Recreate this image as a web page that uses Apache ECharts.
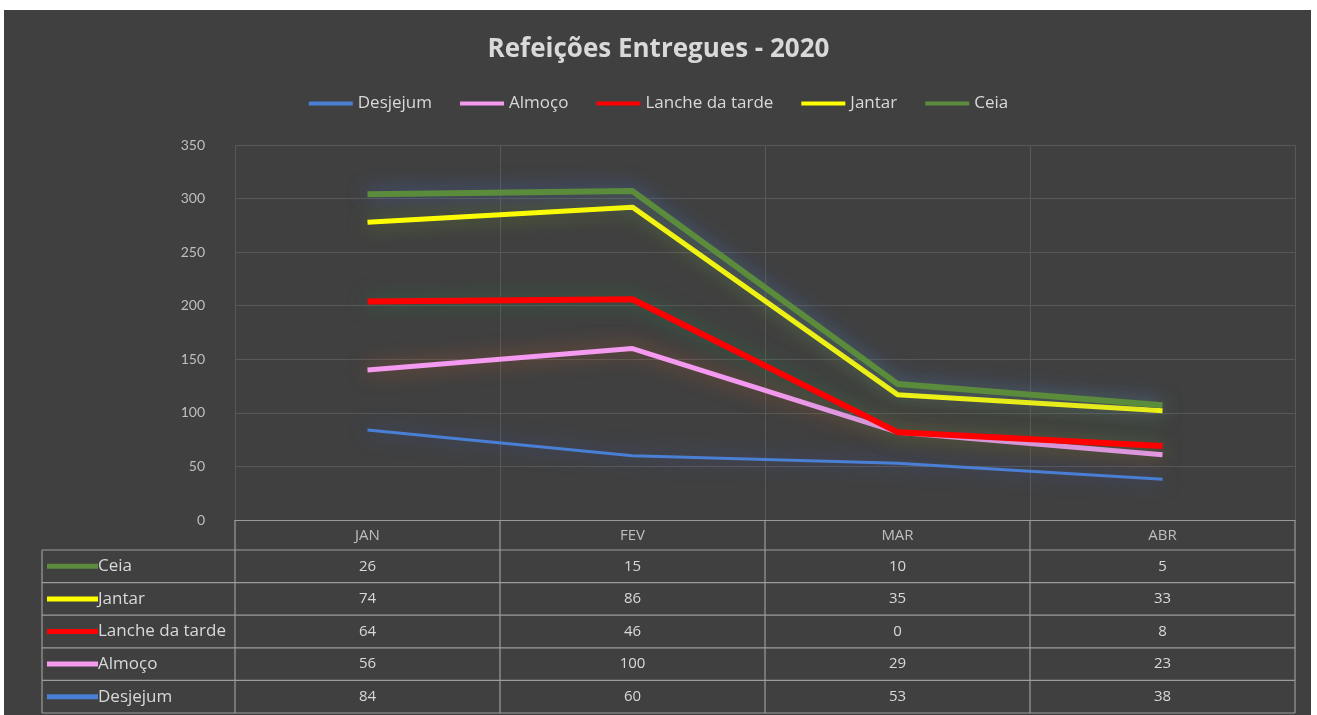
<!DOCTYPE html>
<html><head><meta charset="utf-8">
<script src="https://cdn.jsdelivr.net/npm/echarts@6/dist/echarts.min.js"></script>
<style>html,body{margin:0;padding:0;background:#fff;}#c{width:1317px;height:715px;}</style>
</head><body><div id="c"></div>
<script>
const categories = ['JAN', 'FEV', 'MAR', 'ABR'];
const seriesNames = ['Desjejum', 'Almoço', 'Lanche da tarde', 'Jantar', 'Ceia'];
const desjejum = [84, 60, 53, 38];
const almoco = [56, 100, 29, 23];
const lanche = [64, 46, 0, 8];
const jantar = [74, 86, 35, 33];
const ceia = [26, 15, 10, 5];
const yTicks = [0, 50, 100, 150, 200, 250, 300, 350];

const values = [desjejum, almoco, lanche, jantar, ceia];
const colors = ['#4a7fd6', '#f49af0', '#ff0000', '#ffff00', '#5b8c3c'];
const glows = ['rgba(60,100,220,0.65)', 'rgba(220,100,40,0.6)', 'rgba(40,130,70,0.65)', 'rgba(120,170,40,0.65)', 'rgba(70,110,210,0.7)'];
const widths = [3, 5, 6, 5, 6];
const FONT = '"Open Sans", Lato, sans-serif';
const TXT = '#d9d9d9';
const GRID = {left: 235, right: 22, top: 145, bottom: 195};

const chart = echarts.init(document.getElementById('c'));
const series = seriesNames.map((n, i) => ({
  name: n, type: 'line', stack: 'total', data: values[i], symbol: 'none',
  lineStyle: {color: colors[i], width: widths[i], shadowBlur: 20, shadowColor: glows[i]},
  itemStyle: {color: colors[i]}, z: 2 + i
}));

chart.setOption({
  backgroundColor: '#ffffff',
  animation: false,
  title: {text: 'Refeições Entregues - 2020', left: 'center', top: 32,
    textStyle: {color: TXT, fontFamily: FONT, fontSize: 26, fontWeight: 'bold'}},
  legend: {top: 90, left: 'center', icon: 'rect', itemWidth: 44, itemHeight: 4, itemGap: 28,
    data: seriesNames, textStyle: {color: TXT, fontFamily: FONT, fontSize: 17}},
  grid: GRID,
  xAxis: {type: 'category', data: categories, boundaryGap: true,
    axisLine: {show: true, lineStyle: {color: '#9a9a9a'}}, axisTick: {show: false},
    axisLabel: {color: '#bfbfbf', fontFamily: FONT, fontSize: 15, margin: 8},
    splitLine: {show: true, lineStyle: {color: '#585858'}}},
  yAxis: {type: 'value', min: yTicks[0], max: yTicks[yTicks.length - 1], interval: 50,
    axisLine: {show: false}, axisTick: {show: false},
    axisLabel: {color: '#bfbfbf', fontFamily: 'Lato, sans-serif', fontSize: 14, margin: 30},
    splitLine: {show: true, lineStyle: {color: '#585858'}}},
  series: series
});

// dark panel + data table
const W = 1317, H = 715;
const gx0 = GRID.left, gx1 = W - GRID.right, gy0 = H - GRID.bottom;
const tableLeft = 42, rowH = 32.6, headBottom = gy0 + 30;
const catX = categories.map((c, i) => chart.convertToPixel({xAxisIndex: 0}, c));
const catW = (gx1 - gx0) / categories.length;
const lineC = '#9c9c9c';
const els = [{type: 'rect', shape: {x: 4, y: 10, width: 1307, height: 710}, style: {fill: '#404040'}, z: -10, silent: true}];
const hl = (x1, y, x2) => els.push({type: 'line', shape: {x1, y1: y, x2, y2: y}, style: {stroke: lineC, lineWidth: 1.2}, z: 1});
const vl = (x, y1, y2) => els.push({type: 'line', shape: {x1: x, y1, x2: x, y2}, style: {stroke: lineC, lineWidth: 1.2}, z: 1});
const order = [4, 3, 2, 1, 0];
for (let r = 0; r <= order.length; r++) hl(tableLeft, headBottom + r * rowH, gx1);
const tableBottom = headBottom + order.length * rowH;
vl(tableLeft, headBottom, tableBottom);
for (let k = 0; k <= categories.length; k++) vl(gx0 + k * catW, gy0, tableBottom);
order.forEach((si, r) => {
  const cy = headBottom + r * rowH + rowH / 2;
  els.push({type: 'rect', shape: {x: tableLeft + 5, y: cy - 2.5, width: 51, height: 5}, style: {fill: colors[si]}, z: 2});
  els.push({type: 'text', x: tableLeft + 56, y: cy, style: {text: seriesNames[si], fill: TXT, font: '17px ' + FONT, textVerticalAlign: 'middle', textAlign: 'left'}, z: 2});
  values[si].forEach((v, ci) => {
    els.push({type: 'text', x: catX[ci], y: cy, style: {text: String(v), fill: TXT, font: '15px ' + FONT, textAlign: 'center', textVerticalAlign: 'middle'}, z: 2});
  });
});
chart.setOption({graphic: els});
</script></body></html>
